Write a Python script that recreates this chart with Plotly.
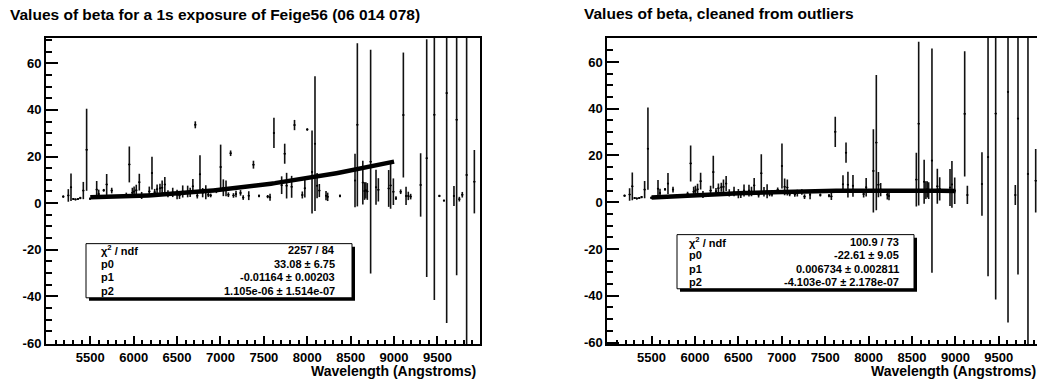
import numpy as np
import plotly.graph_objects as go

# beta vs wavelength
wavelength = [
    5189, 5247, 5278, 5305, 5330, 5358, 5385, 5420, 5458, 5497,
    5574, 5597, 5655, 5689, 5747, 5915, 5950, 5985, 6005, 6030,
    6065, 6092, 6180, 6211, 6242, 6270, 6303, 6328, 6359, 6395,
    6450, 6500, 6528, 6565, 6622, 6651, 6682, 6710, 6733, 6764,
    6795, 6831, 6860, 6887, 6953, 7002, 7033, 7064, 7091, 7117,
    7150, 7179, 7231, 7262, 7326, 7380, 7444, 7544, 7571, 7616,
    7705, 7740, 7762, 7820, 7853, 7943, 7972, 8000, 8055, 8089,
    8113, 8139, 8216, 8235, 8377, 8550, 8577, 8640, 8660, 8675,
    8692, 8730, 8792, 8819, 8938, 8960, 8992, 9022, 9076, 9107,
    9138, 9164, 9191, 9306, 9376, 9464, 9522, 9575, 9606, 9690,
    9721, 9752, 9786, 9836, 9925,
]
beta = [
    2.8, 3.3, 6.8, 1.8, 1.6, 1.8, 2.2, 5.4, 22.9, 1.9,
    5.8, 3.9, 5.5, 8.0, 5.4, 3.5, 16.6, 4.5, 5.0, 5.5,
    9.0, 3.3, 5.0, 12.9, 4.7, 6.0, 6.4, 6.6, 8.0, 4.0,
    4.6, 3.7, 3.3, 5.0, 5.0, 4.6, 7.2, 33.6, 3.2, 12.4,
    4.5, 4.7, 3.6, 3.3, 5.3, 15.5, 6.6, 6.3, 3.6, 21.4,
    3.3, 3.9, 4.4, 2.4, 3.2, 16.5, 3.1, 2.8, 2.5, 30.1,
    7.7, 21.2, 7.5, 7.0, 33.5, 3.5, 6.4, 31.6, 13.4, 25.5,
    7.5, 5.4, 3.2, 2.7, 3.1, 9.7, 33.6, 8.8, 5.2, 5.5,
    5.0, 17.8, 6.8, 5.7, 6.3, 7.6, 4.9, 2.1, 4.9, 37.8,
    3.1, 3.1, 2.8, 7.8, 19.3, 37.9, 3.1, 1.1, 47.2, 3.1,
    35.8, 1.7, 3.6, 12.1, 9.2,
]
beta_err = [
    0.5, 2.7, 5.9, 0.4, 0.4, 0.4, 0.5, 3.7, 17.6, 0.5,
    3.7, 1.9, 0.6, 4.5, 1.2, 1.0, 7.7, 2.1, 2.1, 2.4,
    3.6, 1.5, 2.1, 7.0, 1.4, 2.0, 1.9, 3.1, 3.2, 1.5,
    2.0, 2.0, 1.5, 2.6, 2.5, 2.0, 3.2, 1.5, 1.2, 8.1,
    2.0, 3.0, 1.0, 0.8, 1.0, 9.6, 3.6, 3.4, 1.0, 1.2,
    1.0, 1.4, 1.2, 1.0, 1.9, 1.7, 0.6, 0.7, 1.5, 6.5,
    3.8, 4.3, 5.5, 4.7, 2.2, 1.5, 4.0, 0.5, 17.8, 28.9,
    5.4, 2.8, 2.0, 1.8, 0.6, 11.5, 35.0, 9.4, 3.8, 3.5,
    3.6, 48.0, 7.5, 5.0, 7.9, 10.0, 5.7, 0.8, 1.0, 26.8,
    3.9, 1.8, 1.2, 13.6, 51.0, 79.5, 0.5, 0.4, 98.6, 4.3,
    66.7, 1.0, 1.2, 120.0, 13.6,
]
# points removed in the cleaned sample
outliers = [6710, 7117, 7380, 7853, 8000, 8377, 9022, 9076, 9164, 9191,
            9522, 9575, 9752, 9786]

fit_range = [5500, 9000]
fit_raw = [33.08, -0.01164, 1.105e-06]
fit_clean = [-22.61, 0.006734, -4.103e-07]

stats_raw = [
    ("χ<sup>2</sup> / ndf", "2257 / 84"),
    ("p0", "33.08 ± 6.75"),
    ("p1", "-0.01164 ± 0.00203"),
    ("p2", "1.105e-06 ± 1.514e-07"),
]
stats_clean = [
    ("χ<sup>2</sup> / ndf", "100.9 / 73"),
    ("p0", "-22.61 ± 9.05"),
    ("p1", "0.006734 ± 0.002811"),
    ("p2", "-4.103e-07 ± 2.178e-07"),
]

W, H = 1037, 379
# the page comes out about 8px shorter than asked, so place things against that
H_EFF = 371
FONT = "Liberation Sans, Arial, Helvetica, sans-serif"


def px(x):
    return x / W


def py(y):
    return 1 - y / H_EFF


def add_panel(fig, n, xs, ys, es, pars, x_dom, x_rng, y_rng, right_line=True):
    xa = "x" if n == 1 else f"x{n}"
    ya = "y" if n == 1 else f"y{n}"
    fig.add_trace(
        go.Scatter(
            x=xs, y=ys, mode="markers", xaxis=xa, yaxis=ya,
            marker={"size": 2, "color": "black"},
            error_y={"type": "data", "array": es, "width": 0,
                     "thickness": 1.6, "color": "#111"},
            error_x={"type": "constant", "value": 12, "width": 0,
                     "thickness": 1.2, "color": "#111"},
            showlegend=False,
        )
    )
    fx = np.linspace(fit_range[0], fit_range[1], 80)
    fy = pars[0] + pars[1] * fx + pars[2] * fx ** 2
    fig.add_trace(
        go.Scatter(x=fx, y=fy, mode="lines", xaxis=xa, yaxis=ya,
                   line={"color": "black", "width": 4.5}, showlegend=False)
    )
    tickfont = {"family": FONT, "size": 13, "color": "black", "weight": "bold"}
    yvals = [-60, -40, -20, 0, 20, 40, 60]
    fig.layout["xaxis" if n == 1 else f"xaxis{n}"] = dict(
        domain=x_dom, range=x_rng, anchor=ya,
        showline=True, linecolor="black", linewidth=2, mirror=True,
        showgrid=False, zeroline=False,
        ticks="inside", ticklen=8, tickwidth=2, tickcolor="black",
        tickvals=list(range(5500, 10000, 500)), tickfont=tickfont,
        minor={"tickmode": "linear", "tick0": 5000, "dtick": 100,
               "ticks": "inside", "ticklen": 4, "tickwidth": 1.5,
               "tickcolor": "black"},
    )
    fig.layout["yaxis" if n == 1 else f"yaxis{n}"] = dict(
        domain=[py(343), py(38)], range=y_rng, anchor=xa,
        showline=True, linecolor="black", linewidth=2, mirror=right_line,
        showgrid=False, zeroline=False,
        ticks="inside", ticklen=12, tickwidth=2, tickcolor="black",
        tickmode="array", tickvals=yvals, ticktext=[str(v) for v in yvals],
        tickfont=tickfont,
        minor={"tickmode": "linear", "tick0": 0, "dtick": 5,
               "ticks": "inside", "ticklen": 6, "tickwidth": 1.5,
               "tickcolor": "black"},
    )


def add_stats(fig, box, rows, row_y, text_x):
    x0, y0, x1, y1 = box
    fig.add_shape(type="rect", xref="paper", yref="paper",
                  x0=px(x0 + 3), x1=px(x1 + 3), y0=py(y1 + 3), y1=py(y0 + 3),
                  fillcolor="black", line={"width": 0})
    fig.add_shape(type="rect", xref="paper", yref="paper",
                  x0=px(x0), x1=px(x1), y0=py(y1), y1=py(y0),
                  fillcolor="white", line={"color": "black", "width": 1})
    f = {"family": FONT, "size": 11, "color": "black", "weight": "bold"}
    for (name, val), yy in zip(rows, row_y):
        fig.add_annotation(text=name, x=px(text_x[0]), y=py(yy), xref="paper",
                           yref="paper", xanchor="left", yanchor="middle",
                           showarrow=False, font=f)
        fig.add_annotation(text=val, x=px(text_x[1]), y=py(yy), xref="paper",
                           yref="paper", xanchor="right", yanchor="middle",
                           showarrow=False, font=f)


fig = go.Figure()

add_panel(fig, 1, wavelength, beta, beta_err, fit_raw,
          [px(46), px(480)], [4990, 9990], [-60.4, 70.8])

keep = [i for i, w in enumerate(wavelength) if w not in outliers]
add_panel(fig, 2, [wavelength[i] for i in keep], [beta[i] for i in keep],
          [beta_err[i] for i in keep], fit_clean,
          [px(607.3), 1.0], [4990, 9940], [-60.6, 70.2], right_line=False)

add_stats(fig, (86, 243, 352, 297), stats_raw, [249.5, 263, 276.5, 290], (98.7, 336.7))
add_stats(fig, (677, 234, 914, 288), stats_clean, [241.5, 254.5, 268, 281.5], (687.3, 900.7))

title_font = {"family": FONT, "size": 15.5, "color": "black", "weight": "bold"}
fig.add_annotation(text="Values of beta for a 1s exposure of Feige56 (06 014 078)",
                   x=px(8), y=py(14), xref="paper", yref="paper",
                   xanchor="left", yanchor="middle", showarrow=False, font=title_font)
fig.add_annotation(text="Values of beta, cleaned from outliers",
                   x=px(581.7), y=py(13), xref="paper", yref="paper",
                   xanchor="left", yanchor="middle", showarrow=False, font=title_font)

axis_font = {"family": FONT, "size": 14, "color": "black", "weight": "bold"}
for right_edge in (478, 1038):
    fig.add_annotation(text="Wavelength (Angstroms)", x=px(right_edge), y=py(370),
                       xref="paper", yref="paper", xanchor="right", yanchor="middle",
                       showarrow=False, font=axis_font)

fig.update_layout(
    width=W, height=H,
    margin={"l": 0, "r": 0, "t": 0, "b": 0},
    paper_bgcolor="white", plot_bgcolor="white",
    showlegend=False,
)

# drop the default page margin so the canvas sits at the window corner
fig.write_html(
    "out.html",
    config={"displayModeBar": False, "responsive": False},
    post_script="document.body.style.margin='0px';",
)
